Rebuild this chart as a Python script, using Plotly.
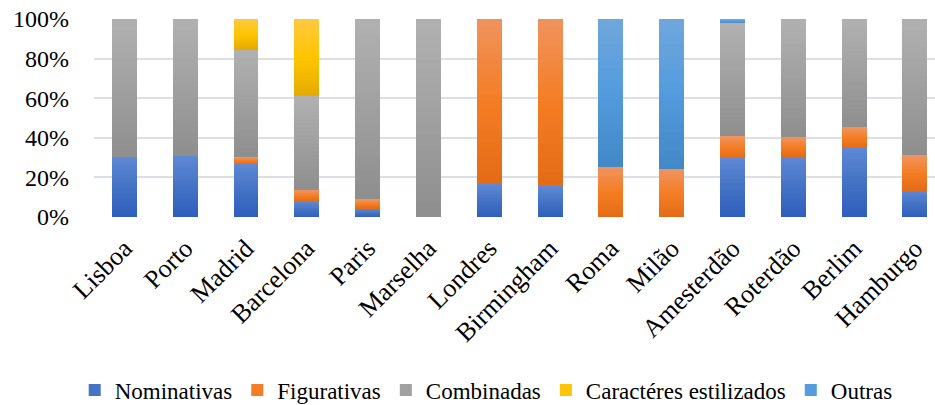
import plotly.graph_objects as go

# Share of trademark types per city (percent of total)
cities = ["Lisboa", "Porto", "Madrid", "Barcelona", "Paris", "Marselha", "Londres",
          "Birmingham", "Roma", "Milão", "Amesterdão", "Roterdão", "Berlim", "Hamburgo"]

nominativas = [30.5, 31.0, 27.0, 8.0, 4.5, 0.0, 16.7, 15.7, 0.0, 0.0, 29.8, 30.8, 35.2, 13.6]
figurativas = [0.0, 0.0, 3.3, 5.7, 4.4, 0.0, 83.3, 84.3, 25.1, 24.1, 11.0, 9.5, 10.1, 17.6]
combinadas = [69.5, 69.0, 54.5, 47.5, 91.1, 100.0, 0.0, 0.0, 0.0, 0.0, 57.2, 59.7, 54.7, 68.8]
caracteres = [0.0, 0.0, 15.2, 38.8, 0.0, 0.0, 0.0, 0.0, 0.0, 0.0, 0.0, 0.0, 0.0, 0.0]
outras = [0.0, 0.0, 0.0, 0.0, 0.0, 0.0, 0.0, 0.0, 74.9, 75.9, 2.0, 0.0, 0.0, 0.0]

y_ticks = [0, 20, 40, 60, 80, 100]
y_tick_text = ["0%", "20%", "40%", "60%", "80%", "100%"]

# (name, values, bottom colour, middle colour, top colour)
series = [
    ("Nominativas", nominativas, "#2E5EBD", "#4472C4", "#5F89D6"),
    ("Figurativas", figurativas, "#E36B16", "#F47D24", "#F0935E"),
    ("Combinadas", combinadas, "#8E8E8E", "#A0A0A0", "#B1B1B1"),
    ("Caractéres estilizados", caracteres, "#E3AB00", "#FFC400", "#FFC941"),
    ("Outras", outras, "#4387C5", "#539BDD", "#70A7DC"),
]

N_SLICES = 24


def hex_to_rgb(h):
    h = h.lstrip("#")
    return tuple(int(h[i:i + 2], 16) for i in (0, 2, 4))


def mix(c1, c2, t):
    a, b = hex_to_rgb(c1), hex_to_rgb(c2)
    return "rgb(%d,%d,%d)" % tuple(round(a[i] + (b[i] - a[i]) * t) for i in range(3))


def gradient(bottom, mid, top, t):
    if t < 0.5:
        return mix(bottom, mid, t / 0.5)
    return mix(mid, top, (t - 0.5) / 0.5)


fig = go.Figure()

# Each segment is drawn as a stack of thin slices, darker at the bottom
for name, vals, c_bot, c_mid, c_top in series:
    for k in range(N_SLICES):
        t = (k + 0.5) / N_SLICES
        fig.add_trace(go.Bar(
            x=cities,
            y=[v / N_SLICES for v in vals],
            name=name,
            legendgroup=name,
            showlegend=(k == N_SLICES // 2),
            marker=dict(color=gradient(c_bot, c_mid, c_top, t), line=dict(width=0)),
            width=0.41,
            hoverinfo="skip",
        ))

font_family = "'Liberation Serif', 'Times New Roman', serif"

fig.update_layout(
    width=935,
    height=405,
    autosize=False,
    barmode="stack",
    bargap=0,
    paper_bgcolor="white",
    plot_bgcolor="white",
    margin=dict(l=94, r=0, t=19, b=188, autoexpand=False),
    font=dict(family=font_family, size=24, color="black"),
    showlegend=True,
    legend=dict(
        orientation="h",
        xref="container",
        x=0.52,
        xanchor="center",
        yref="container",
        y=0.037,
        yanchor="middle",
        font=dict(family=font_family, size=23, color="black"),
        itemsizing="constant",
        itemwidth=30,
        tracegroupgap=0,
        traceorder="normal",
    ),
    xaxis=dict(
        range=[-0.5, 13.33],
        tickangle=-45,
        showgrid=False,
        showline=False,
        zeroline=False,
        ticks="",
        ticklabelstandoff=10,
        automargin=False,
        tickfont=dict(family=font_family, size=26, color="black"),
    ),
    yaxis=dict(
        range=[0, 100],
        tickvals=y_ticks,
        ticktext=y_tick_text,
        showgrid=True,
        gridcolor="#DCDFE4",
        gridwidth=1.5,
        zeroline=False,
        showline=False,
        ticks="",
        ticklabelstandoff=24,
        automargin=False,
        tickfont=dict(family=font_family, size=24, color="black"),
    ),
)

fig.write_html("out.html")
